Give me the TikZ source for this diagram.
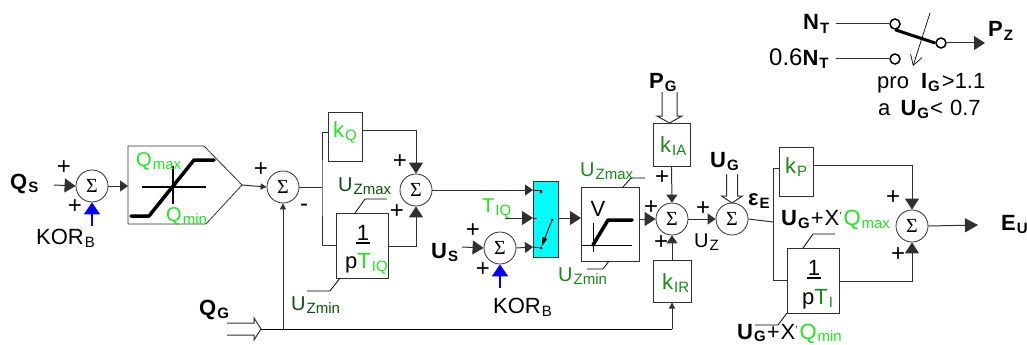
\documentclass[tikz,border=0pt]{standalone}
\usepackage{fontspec}
\setmainfont{Liberation Sans}
\newfontfamily\sumfont{Liberation Serif}
\usetikzlibrary{arrows.meta}
\definecolor{lightgrn}{HTML}{1FE61F}
\definecolor{midgrn}{HTML}{168A16}
\definecolor{darkgrn}{HTML}{0F4D0F}
\definecolor{wiregray}{HTML}{303030}
\definecolor{swcyan}{HTML}{00FFFF}
\tikzset{
  wire/.style={draw=wiregray, line width=1pt},
  thinwire/.style={draw=black, line width=0.8pt},
  bigtip/.style={wire, -{Triangle[length=11pt,width=14pt]}},
  midtip/.style={wire, -{Triangle[length=8pt,width=11pt]}},
  smalltip/.style={wire, -{Triangle[length=6pt,width=6pt]}},
  bluetip/.style={draw=blue, line width=1.8pt, -{Triangle[length=12pt,width=16pt]}},
  thickcurve/.style={draw=black, line width=3.5pt, line cap=round, line join=round},
  sumcircle/.style={draw=wiregray, circle, line width=0.8pt, minimum size=32pt, inner sep=0pt, font=\fontsize{20}{20}\selectfont},
  blockbox/.style={draw=wiregray, line width=1pt, inner sep=0pt},
  contact/.style={draw=black, circle, line width=1.5pt, minimum size=10pt, inner sep=0pt},
  swdot/.style={fill=black, circle, minimum size=3pt, inner sep=0pt},
  lbl/.style={anchor=base west, inner sep=0pt, font=\fontsize{20}{24}\selectfont},
  biglbl/.style={lbl, font=\fontsize{22}{24}\selectfont},
  boldlbl/.style={lbl, font=\fontsize{22}{24}\selectfont\bfseries},
  plussign/.style={inner sep=0pt, font=\fontsize{24}{24}\selectfont}
}
\newcommand{\sbs}[1]{\kern1pt\raisebox{-3.5pt}{\fontsize{15}{15}\selectfont #1}}
\newcommand{\sumnode}[3]{\node[sumcircle] (#1) at (#2,#3) {\sumfont Σ};}
\newcommand{\gainbox}[5]{%
  \node[blockbox, minimum width=#4pt, minimum height=#5pt] (#1) at (#2,#3) {};
}
\newcommand{\hollowarrow}[5]{ % tip x, tip y, rotation, shaft length, shaft half width
  \begin{scope}[shift={(#1,#2)}, rotate=#3]
    \draw[wire] (-#4,-#5) -- (-7,-#5) -- (-7,-#5-5) -- (0,0) -- (-7,#5+5) -- (-7,#5) -- (-#4,#5);
  \end{scope}
}

\begin{document}
\begin{tikzpicture}[x=1pt,y=-1pt]
\useasboundingbox (0,0) rectangle (1027,345);

% input branch
\sumnode{sumQ}{92}{186}
\node[boldlbl] (labQS) at (10,189) {Q\sbs{S}};
\coordinate (inQS) at (54,185);
\draw[bigtip] (inQS) -- (sumQ.west);
\coordinate (korA) at (92,226);
\draw[bluetip] (korA) -- (sumQ.south);
\node[biglbl] (labKorA) at (36,244) {KOR\sbs{B}};

% limiter
\coordinate (limIn) at (128,186);
\coordinate (limOut) at (242,185);
\draw[wire, line width=0.8pt] (128,146) -- (204,146) -- (limOut) -- (206,224) -- (128,224) -- cycle;
\draw[wire, line width=1.2pt, draw=black] (142,187) -- (206,187);
\draw[wire, line width=1.2pt, draw=black] (173,166) -- (173,204);
\draw[thickcurve] (131,216) -- (149,216) -- (194,160) -- (214,160);
\node[lbl, text=lightgrn] (labQmax) at (136,166) {Q\sbs{max}};
\node[lbl, text=lightgrn] (labQmin) at (166,221) {Q\sbs{min}};
\draw[midtip] (sumQ.east) -- (limIn);

% feedback from QG
\sumnode{sumE}{283}{187}
\draw[smalltip] (limOut) -- (sumE.west);
\node[boldlbl] (labQG) at (199,315) {Q\sbs{G}};
\hollowarrow{261}{329}{0}{34}{6}
\coordinate (qgOut) at (261,329);
\coordinate (qgJoin) at (283,329);
\draw[smalltip] (qgJoin) -- (sumE.south);
\node[plussign] (minusE) at (304,208) {-};

% PI of Q
\gainbox{kQ}{345}{136.5}{34}{49}
\gainbox{pTIQ}{362}{245.5}{52}{65}
\coordinate (jQ) at (322,187);
\coordinate (kQin) at (328,132);
\coordinate (pTIQin) at (336,245);
\draw[wire] (sumE.east) -- (jQ);
\draw[wire] (kQin) -| (jQ) |- (pTIQin);
\node[biglbl, text=lightgrn] (labkQ) at (333,137) {k\sbs{Q}};
\node[biglbl, anchor=base] (oneQ) at (363,240) {1};
\draw[wire, draw=black, line width=1.2pt] (356,243) -- (370,243);
\node[biglbl] (labpTIQ) at (345,268) {p\textcolor{lightgrn}{T\sbs{IQ}}};
\draw[thinwire] (355,213) -- (365,199) -- (387,199);
\draw[thinwire] (340,278) -- (330,291) -- (307,291);
\node[lbl, text=darkgrn] (labZmaxA) at (338,191) {U\sbs{Zmax}};
\node[lbl, text=darkgrn] (labZminA) at (291,310) {U\sbs{Zmin}};
\sumnode{sumI}{416}{190}
\coordinate (kQout) at (362,130);
\coordinate (pTIQout) at (388,246);
\draw[bigtip] (kQout) -| (sumI.north);
\draw[bigtip] (pTIQout) -| (sumI.south);

% switch
\node[blockbox, fill=swcyan, draw=wiregray, minimum width=25pt, minimum height=76pt] (switchBox) at (545.5,219) {};
\coordinate (swA) at (533,190);
\coordinate (swB) at (533,218);
\coordinate (swC) at (533,247);
\draw[midtip] (sumI.east) -- (swA);
\node[lbl, text=lightgrn] (labTIQ) at (482,212) {T\sbs{IQ}};
\coordinate (inTIQ) at (505,218);
\draw[bigtip] (inTIQ) -- (swB);
\draw[thinwire] (swB) -- (537,218);
\node[swdot] (dotA) at (541,192) {};
\node[swdot] (dotC) at (541,248) {};
\node[swdot] (dotB) at (552,220) {};
\draw[thinwire] (swA) -| (dotA);
\draw[thinwire] (swC) -- (dotC);
\draw[wire, draw=black, -{Triangle[length=9pt,width=5pt]}] (dotB) -- (dotC);
\sumnode{sumS}{500}{248}
\node[boldlbl] (labUS) at (431,258) {U\sbs{S}};
\coordinate (inUS) at (462,247);
\draw[bigtip] (inUS) -- (sumS.west);
\draw[midtip] (sumS.east) -- (swC);
\coordinate (korB) at (500,288);
\draw[bluetip] (korB) -- (sumS.south);
\node[biglbl] (labKorB) at (493,313) {KOR\sbs{B}};

% voltage limit
\gainbox{limitV}{610}{224}{58}{74}
\coordinate (swOut) at (558,218);
\coordinate (limitIn) at (581,218);
\draw[bigtip] (swOut) -- (limitIn);
\draw[wire, draw=black] (582,245) -- (632,245);
\draw[wire, draw=black] (593,223) -- (593,252);
\draw[thickcurve] (593,245) -- (608,220) -- (632,220);
\node[biglbl, anchor=base] (labV) at (598,216) {V};
\draw[thinwire] (623,187) -- (631,178) -- (645,178);
\draw[thinwire] (609,261) -- (603,269) -- (587,269);
\node[lbl, text=midgrn] (labZmaxB) at (580,176) {U\sbs{Zmax}};
\node[lbl, text=midgrn] (labZminB) at (558,281) {U\sbs{Zmin}};

% summing of kIA, kIR
\sumnode{sumZ}{672}{219}
\coordinate (limitOut) at (639,219);
\draw[bigtip] (limitOut) -- (sumZ.west);
\gainbox{kIA}{671.5}{144.5}{37}{43}
\gainbox{kIR}{672}{281}{38}{42}
\node[biglbl, text=midgrn] (labkIA) at (660,152) {k\sbs{IA}};
\node[biglbl, text=midgrn] (labkIR) at (662,289) {k\sbs{IR}};
\draw[midtip] (kIA.south) -- (sumZ.north);
\draw[midtip] (kIR.north) -- (sumZ.south);
\node[boldlbl] (labPG) at (649,88) {P\sbs{G}};
\hollowarrow{669.5}{123}{-90}{31}{7.5}
\draw[wire, draw=black] (qgOut) -- (672,329);
\draw[smalltip] (672,329) -- (kIR.south);

% excitation regulator
\sumnode{sumU}{732}{219}
\draw[midtip] (sumZ.east) -- (sumU.west);
\node[lbl] (labUZ) at (694,247) {U\sbs{Z}};
\node[boldlbl] (labUG) at (710,167) {U\sbs{G}};
\hollowarrow{732}{203}{-90}{29}{5.5}
\node[boldlbl] (labEps) at (748,205) {ε\sbs{E}};
\gainbox{kP}{796}{171.5}{34}{49}
\gainbox{pTI}{813}{280.5}{52}{65}
\coordinate (jU) at (773,222);
\coordinate (kPin) at (779,168);
\coordinate (pTIin) at (787,280);
\draw[wire] (sumU.east) -- (jU);
\draw[wire] (kPin) -| (jU) |- (pTIin);
\node[biglbl, text=midgrn] (labkP) at (785,173) {k\sbs{P}};
\node[biglbl, anchor=base] (oneI) at (814,275) {1};
\draw[wire, draw=black, line width=1.2pt] (807,278) -- (821,278);
\node[biglbl] (labpTI) at (802,304) {p\textcolor{midgrn}{T\sbs{I}}};
\draw[thinwire] (803,248) -- (813,234) -- (835,234);
\draw[thinwire] (787,313) -- (778,325) -- (755,325);
\node[biglbl] (labUmax) at (781,225) {\textbf{U\sbs{G}}\kern1pt+\kern1pt X\raisebox{6pt}{\fontsize{10}{10}\selectfont '}\kern2pt\textcolor{lightgrn}{Q\sbs{max}}};
\node[biglbl] (labUmin) at (737,339) {\textbf{U\kern1pt\raisebox{-2pt}{\fontsize{15}{15}\selectfont G}}\kern1pt+\kern1pt X\raisebox{6pt}{\fontsize{10}{10}\selectfont '}\kern2pt\textcolor{lightgrn}{Q\kern1pt\raisebox{-2pt}{\fontsize{15}{15}\selectfont min}}};
\sumnode{sumO}{912}{226}
\coordinate (kPout) at (813,165);
\coordinate (pTIout) at (839,281);
\draw[bigtip] (kPout) -| (sumO.north);
\draw[bigtip] (pTIout) -| (sumO.south);
\coordinate (outEU) at (978,225);
\draw[wire, -{Triangle[length=13pt,width=14pt]}] (sumO.east) -- (outEU);
\node[boldlbl] (labEU) at (1001,230) {E\sbs{U}};

% plus signs
\foreach \i/\x/\y in {a/64/168,b/75/207,c/261/170,d/400/162,e/397/212,f/473/231,g/483/270,h/651/208,i/661/243,j/662/178,k/703/209,l/893/198,m/898/255}
  \node[plussign] (plus\i) at (\x,\y) {+};

% power switch
\node[boldlbl] (labNT) at (803,30) {N\sbs{T}};
\node[biglbl, font=\fontsize{24}{24}\selectfont] (labNTb) at (769,65) {0.6\fontsize{22}{24}\selectfont\textbf{N\sbs{T}}};
\node[contact] (contA) at (895,24) {};
\node[contact] (contB) at (895,59) {};
\node[contact] (contC) at (941,43) {};
\coordinate (inNT) at (836,24);
\coordinate (inNTb) at (836,59);
\coordinate (outPZ) at (985,43);
\draw[wire] (inNT) -- (contA.west);
\draw[wire] (inNTb) -- (contB.west);
\draw[bigtip] (contC.east) -- (outPZ);
\draw[draw=black, line width=3pt] (contA.south) -- (contC.west);
\coordinate (condA) at (930,13);
\coordinate (condB) at (913,66);
\draw[draw=black, line width=0.7pt, -{Straight Barb[length=10pt,width=12pt]}] (condA) -- (condB);
\node[boldlbl] (labPZ) at (988,37) {P\sbs{Z}};
\node[biglbl] (labPro) at (877,88) {pro\kern6pt{} \textbf{I\sbs{G}}\kern2pt>1.1};
\node[biglbl] (labAnd) at (878,115) {a\kern4pt{} \textbf{U\sbs{G}}\kern1pt<\kern1pt{} 0.7};

\end{tikzpicture}
\end{document}
